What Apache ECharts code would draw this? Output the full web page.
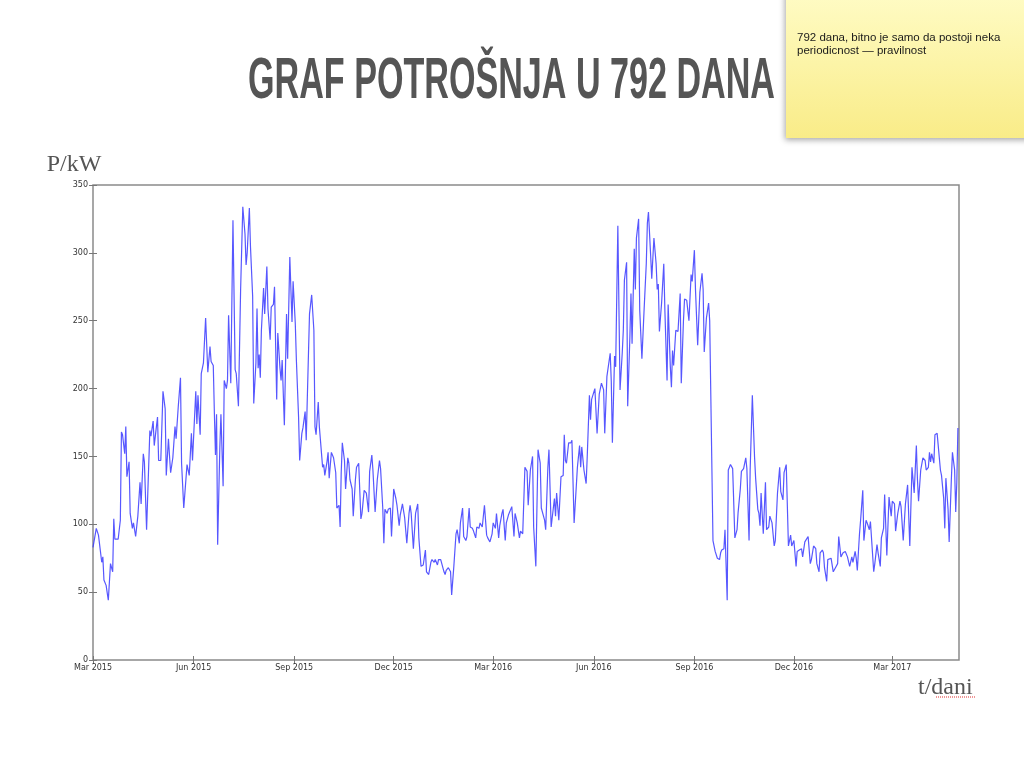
<!DOCTYPE html>
<html>
<head>
<meta charset="utf-8">
<title>Graf potrošnja u 792 dana</title>
<script src="https://cdn.jsdelivr.net/npm/echarts@6/dist/echarts.min.js"></script>
<style>
  html, body { margin: 0; padding: 0; background: #fff; }
  #main { width: 1024px; height: 768px; }
</style>
</head>
<body>
<div id="main"></div>
<script>
// day index counted from 1 Mar 2015, 792 days in total
var totalDays = 792;

var days = [
  0,3,5,6,8,9,10,12,14,16, 18,19,20,23,25,26,27,29,30,31, 33,34,36,37,39,41,43,44,46,47,
  49,50,52,53,55,56,59,60,62,64, 66,67,69,70,71,73,75,76,78,80, 81,83,84,86,88,90,91,94,95,
  96,98,99,101,103,105,107,108,110,111, 112,113,114,116,117,119,120,122,123,124,
  126,128,130,131,133,135,137,139,140,141, 143,144,146,147,149,150,151,152,153,154,
  156,157,159,160,162,163,165,166,168,169, 171,172,173,175,177,178,180,182,183,185,
  186,188,189,191,192,194,195,
  197,198,200,202,203,204,206,207,208,210, 211,212,214,215,216,218,220,222,223,225,
  226,227,228,230,231,233,234,235,237,238, 240,241,243,245,246,248,250,252,253,255,
  256,258,259,260,262,263,265,266,267,269, 270,272,273,275,277,278,280,281,283,
  285,287,289,290,291,293,295,297,298,300, 302,304,305,307,309,310,312,313,315,316,
  318,319,321,322,323,325,327,328,330,332, 333,335,336,338,339,341,342,344,345,347,
  348,350,351,353,354,356,358,360,361,363, 365,366,368,369,371,372,374,375,377,378,
  380,382,383,385,386,
  388,390,391,393,395,397,398,400,402,403, 405,407,409,410,412,413,414,416,417,419,
  422,423,424,426,428,430,431,432,433,435, 437,438,440,442,443,445,446,447,449,451,
  452,454,455,456,457,459,461,463,465,467, 468,470,473,474,475,477,478,480,482,
  484,485,486,488,489,491,492,493,495,496, 497,499,500,502,504,506,507,508,510,511,
  513,515,516,517,518,520,522,523,525,526, 528,529,530,531,533,535,537,538,540,541,
  543,545,547,548,550,551,553,554,555,557, 558,559,561,562,563,564,567,569,570,571,
  573,574,575,577,578,580,
  581,583,585,587,589,590,592,593,595,597, 598,600,601,603,605,606,608,609,610,611,
  613,615,616,618,619,621,623,624,626,628, 629,630,631,632,634,636,638,639,641,643,
  644,646,648,649,651,652,654,656,657,659, 661,662,664,665,667,668,
  669,671,672,675,677,679,681,682,684,686, 688,690,692,694,695,697,698,699,701,702,
  704,705,707,708,710,711,714,715,717,718, 720,721,723,724,726,728,730,731,733,734,
  736,738,739,741,743,745,746,747,749,751, 753,754,755,757,759,761,762,764,765,766,
  767,769,770,772,773,775,776,778,779,780, 782,783,785,786,788,789,790,791
];

var power = [
  83,97,92,92,72,76,59,55,44,71, 65,104,89,89,103,168,166,152,172,135, 146,108,97,101,91,106,131,115,152,146,
  96,95,169,165,176,158,179,147,147,198, 185,136,163,150,138,149,172,163,187,208, 145,112,113,144,136,167,147,198,174,
  195,166,211,219,252,212,231,220,217,182, 151,181,85,157,181,128,206,200,206,254,
  204,324,214,211,187,273,334,314,291,300, 333,305,268,189,219,259,215,225,208,243,
  274,255,290,259,236,260,262,275,192,241, 215,206,221,173,255,222,297,249,279,248,
  221,179,147,167,171,183,162,
  224,255,269,243,172,166,190,172,171,142, 144,136,146,153,134,153,149,138,112,114,
  98,138,160,147,126,149,145,133,126,106, 133,142,145,104,108,125,123,109,139,151,
  140,109,108,133,147,141,112,86,111,108, 111,112,91,126,119,114,99,107,115,
  105,86,108,114,108,82,108,115,90,69, 70,81,65,63,72,74,72,74,70,74,
  74,74,65,63,66,68,65,48,69,93, 96,86,101,112,91,88,91,112,98,97,
  95,90,98,97,101,98,114,92,90,87, 93,101,97,108,90,99,108,111,88,101,
  107,111,113,91,108,
  101,90,95,93,142,139,114,140,150,98, 69,155,145,112,106,103,96,142,155,98,
  119,106,123,103,135,136,166,147,145,160, 160,162,101,128,142,158,142,157,140,130,
  150,195,177,192,192,200,167,196,204,199, 167,209,226,205,160,224,216,320,199,
  226,243,280,293,187,238,270,233,303,273, 311,325,258,222,258,292,322,330,298,281,
  311,292,273,277,242,263,292,258,206,262, 216,201,228,217,243,242,270,204,250,266,
  265,250,284,279,302,273,232,232,271,285, 273,227,252,253,263,250,88,80,80,75,
  74,79,81,82,96,44,
  140,144,141,90,96,109,126,139,141,149, 141,88,140,195,150,134,111,108,99,123,
  93,131,96,98,106,101,84,88,123,142, 124,123,118,138,144,84,92,84,88,69,
  80,81,82,76,87,86,91,71,74,84, 82,71,65,79,81,79,
  68,58,74,75,65,68,71,91,76,79, 80,76,69,76,72,80,75,66,93,103,
  125,88,103,101,96,102,65,71,85,79, 69,90,97,122,77,120,106,117,115,95,
  108,117,113,88,115,129,129,84,142,123, 158,133,117,140,149,147,140,142,153,146,
  152,145,166,167,167,140,136,119,97,134, 111,87,133,153,140,109,131,171
];

// first day of Mar/Jun/Sep/Dec, as day index
var tickDays = [0, 92, 184, 275, 366, 458, 550, 641, 731];
var tickLabels = ['Mar 2015', 'Jun 2015', 'Sep 2015', 'Dec 2015', 'Mar 2016',
                  'Jun 2016', 'Sep 2016', 'Dec 2016', 'Mar 2017'];
var yTicks = [0, 50, 100, 150, 200, 250, 300, 350];

if (days.length !== power.length) console.error('length mismatch', days.length, power.length);

var labelOf = {};
tickDays.forEach(function (d, i) { labelOf[d] = tickLabels[i]; });

var seriesData = days.map(function (d, i) { return [d, power[i]]; });

// squeeze the title into the width it has on the slide
var titleText = 'GRAF POTROŠNJA U 792 DANA';
var titleFont = 'bold 57px "Liberation Sans Narrow", "Liberation Sans", Arial, sans-serif';
var ctx = document.createElement('canvas').getContext('2d');
ctx.font = titleFont;
var titleScale = 527 / ctx.measureText(titleText).width;

var myChart = echarts.init(document.getElementById('main'), null, { renderer: 'canvas' });

var tickStyle = { show: true, inside: true, length: 4, lineStyle: { color: '#777', width: 1 } };
var labelFont = { fontFamily: 'DejaVu Sans', fontSize: 8, color: '#333' };

var option = {
  animation: false,
  backgroundColor: '#fff',
  grid: {
    left: 93, top: 185, right: 65, bottom: 108,
    show: true, borderColor: '#8a8a8a', borderWidth: 1.5, backgroundColor: 'transparent'
  },
  xAxis: [{
    type: 'value', min: 0, max: totalDays,
    name: 't/dani', nameLocation: 'end', nameGap: -41,
    nameTextStyle: {
      fontFamily: 'Liberation Serif', fontSize: 24, color: '#555',
      verticalAlign: 'top', lineHeight: 56
    },
    axisLine: { show: false },
    axisTick: Object.assign({ customValues: tickDays }, tickStyle),
    axisLabel: Object.assign({
      customValues: tickDays, margin: 4,
      formatter: function (v) { return labelOf[v] || ''; }
    }, labelFont),
    splitLine: { show: false }
  }, {
    type: 'value', min: 0, max: totalDays, position: 'top',
    axisLine: { show: false },
    axisTick: Object.assign({ customValues: tickDays }, tickStyle),
    axisLabel: { show: false },
    splitLine: { show: false }
  }],
  yAxis: [{
    type: 'value', min: 0, max: 350, interval: 50,
    name: 'P/kW', nameLocation: 'end', nameGap: 8,
    nameTextStyle: { fontFamily: 'Liberation Serif', fontSize: 24, color: '#555', padding: [0, 38, 0, 0] },
    axisLine: { show: false },
    axisTick: tickStyle,
    axisLabel: Object.assign({ margin: 5, customValues: yTicks }, labelFont),
    splitLine: { show: false }
  }, {
    type: 'value', min: 0, max: 350, interval: 50, position: 'right',
    axisLine: { show: false },
    axisTick: tickStyle,
    axisLabel: { show: false },
    splitLine: { show: false }
  }],
  graphic: [
    {
      type: 'text', x: 511.5, y: 82, scaleX: titleScale,
      style: {
        text: titleText, font: titleFont, fill: '#555',
        align: 'center', verticalAlign: 'middle',
        textAlign: 'center', textVerticalAlign: 'middle'
      }
    },
    {
      type: 'rect', shape: { x: 786, y: -10, width: 260, height: 148 },
      style: {
        fill: new echarts.graphic.LinearGradient(0, 0, 0, 1, [
          { offset: 0, color: '#fffcc6' },
          { offset: 1, color: '#f9ec88' }
        ]),
        shadowBlur: 6, shadowColor: 'rgba(0,0,0,0.35)', shadowOffsetX: -1, shadowOffsetY: 2
      }
    },
    {
      type: 'text', x: 797, y: 31,
      style: {
        text: '792 dana, bitno je samo da postoji neka\nperiodicnost — pravilnost',
        font: '11.5px "Liberation Sans", Arial, sans-serif', fill: '#1a1a1a',
        lineHeight: 13.5, align: 'left', verticalAlign: 'top',
        textAlign: 'left', textVerticalAlign: 'top'
      }
    },
    {
      type: 'line', shape: { x1: 936, y1: 697, x2: 975, y2: 697 },
      style: { stroke: '#e03030', lineWidth: 1, lineDash: [1, 1] }
    }
  ],
  series: [{
    type: 'line',
    data: seriesData,
    showSymbol: false,
    smooth: false,
    lineStyle: { color: '#3a3aff', width: 1.2, opacity: 0.85 },
    itemStyle: { color: '#3a3aff' }
  }]
};

myChart.setOption(option);
</script>
</body>
</html>
